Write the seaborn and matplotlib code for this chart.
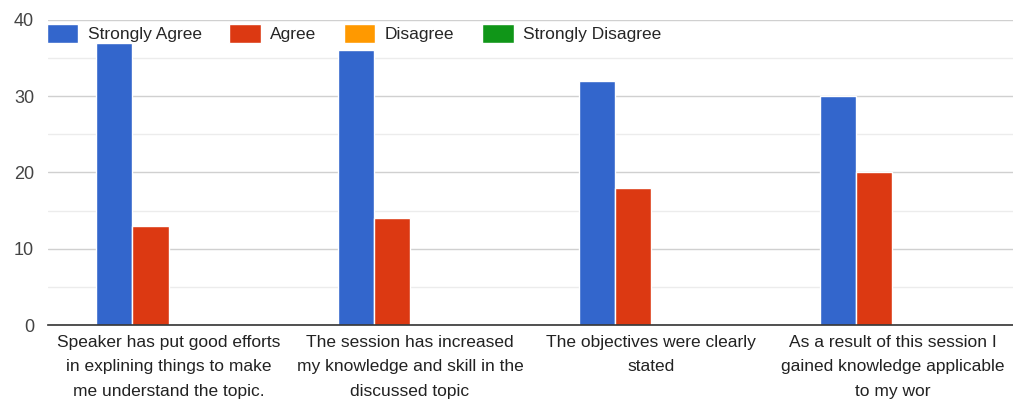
import pandas as pd
import numpy as np
import matplotlib.pyplot as plt
import seaborn as sns

questions = [
    "Speaker has put good efforts\nin explining things to make\nme understand the topic.",
    "The session has increased\nmy knowledge and skill in the\ndiscussed topic",
    "The objectives were clearly\nstated",
    "As a result of this session I\ngained knowledge applicable\nto my wor",
]
responses = ["Strongly Agree", "Agree", "Disagree", "Strongly Disagree"]
strongly_agree = [37, 36, 32, 30]
agree = [13, 14, 18, 20]
disagree = [0, 0, 0, 0]
strongly_disagree = [0, 0, 0, 0]
colors = ["#3366cc", "#dc3912", "#ff9900", "#109618"]

rows = []
for vals, resp in zip([strongly_agree, agree, disagree, strongly_disagree], responses):
    for q, v in zip(questions, vals):
        rows.append({"question": q, "response": resp, "count": v})
df = pd.DataFrame(rows)

sns.set_style("white")
plt.rcParams["font.family"] = ["Liberation Sans", "DejaVu Sans"]

fig = plt.figure(figsize=(10.13, 4.03), dpi=100)
ax = fig.add_axes([48 / 1013, 1 - 325 / 403, 1 - 48 / 1013, (325 - 20) / 403])

sns.barplot(data=df, x="question", y="count", hue="response", hue_order=responses,
            palette=colors, width=0.6, gap=0, saturation=1, ax=ax)

ax.set_ylim(0, 40)
ax.set_xlim(-0.5, 3.5)
ax.set_yticks([0, 10, 20, 30, 40])
ax.set_yticks([5, 15, 25, 35], minor=True)
ax.grid(axis="y", which="major", color="#d0d0d0", linewidth=1)
ax.grid(axis="y", which="minor", color="#ececec", linewidth=1)
ax.set_axisbelow(True)
for s in ["top", "right", "left"]:
    ax.spines[s].set_visible(False)
ax.spines["bottom"].set_color("#333333")
ax.spines["bottom"].set_linewidth(1.2)
ax.tick_params(axis="both", length=0, colors="#222222")
ax.tick_params(axis="y", pad=10, labelsize=13, labelcolor="#444444")
ax.tick_params(axis="x", pad=7, labelsize=12.5)
for lbl in ax.get_xticklabels():
    lbl.set_linespacing(1.8)
ax.set_xlabel("")
ax.set_ylabel("")

ax.legend(loc="upper left", bbox_to_anchor=(-0.012, 1.02), ncol=4, frameon=False,
          fontsize=12.5, handlelength=1.8, handleheight=1.25, columnspacing=1.6,
          handletextpad=0.55, borderaxespad=0.2)

plt.savefig("out.png", dpi=100)
